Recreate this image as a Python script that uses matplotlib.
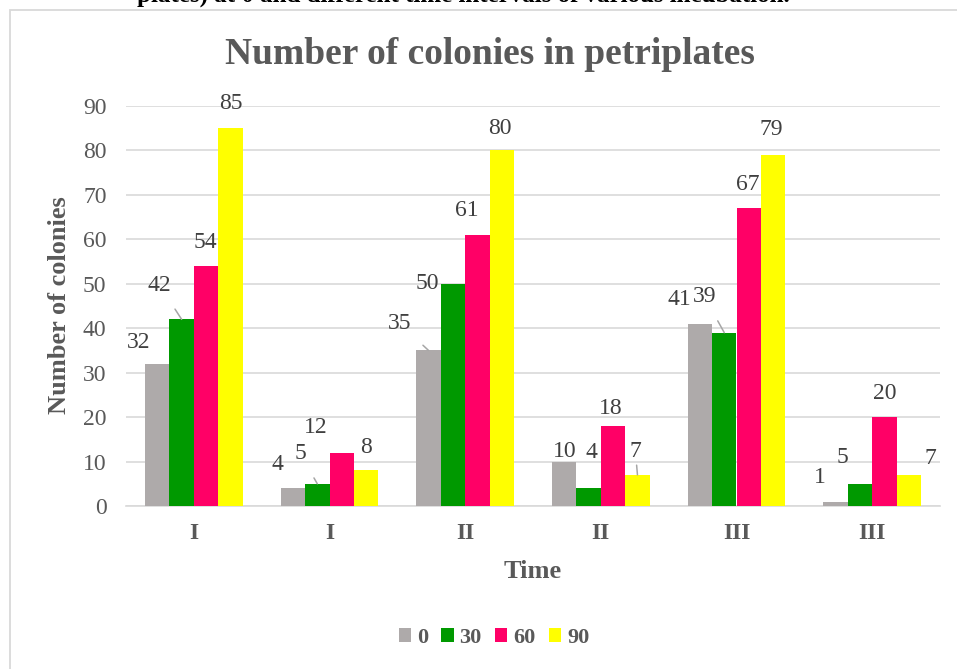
import numpy as np
import matplotlib
matplotlib.use("Agg")
import matplotlib.pyplot as plt
from matplotlib.patches import Rectangle

# colony counts per plate group, one list per time point
groups = ["I", "I", "II", "II", "III", "III"]
series_names = ["0", "30", "60", "90"]
counts_0 = [32, 4, 35, 10, 41, 1]
counts_30 = [42, 5, 50, 4, 39, 5]
counts_60 = [54, 12, 61, 18, 67, 20]
counts_90 = [85, 8, 80, 7, 79, 7]
colors = ["#AEAAAA", "#009900", "#FF0066", "#FFFF00"]

# label offsets in pixels (dx, dy) from the top of each bar; True = leader line
label_pos = {
    (0, 0): (-19, 21, False), (0, 1): (-22, 34, True), (0, 2): (-1, 24, False), (0, 3): (0, 25, False),
    (1, 0): (-15, 24, False), (1, 1): (-17, 30, True), (1, 2): (-26, 25, False), (1, 3): (0, 23, False),
    (2, 0): (-29, 27, True), (2, 1): (-26, 0, False), (2, 2): (-11, 24, False), (2, 3): (-2, 22, False),
    (3, 0): (1, 10, False), (3, 1): (3, 36, False), (3, 2): (-2, 18, False), (3, 3): (-2, 23, True),
    (4, 0): (-20, 24, False), (4, 1): (-20, 36, True), (4, 2): (-1, 24, False), (4, 3): (-2, 25, False),
    (5, 0): (-16, 24, False), (5, 1): (-18, 26, False), (5, 2): (0, 24, False), (5, 3): (22, 16, False),
}

plt.rcParams["font.family"] = ["Liberation Serif", "DejaVu Serif"]
W, H = 957, 669
fig = plt.figure(figsize=(W / 100, H / 100), dpi=100)
ax = fig.add_axes([126 / W, 1 - 506 / H, 814 / W, 400 / H])

all_series = [counts_0, counts_30, counts_60, counts_90]
x = np.arange(len(groups))
bw = 0.18
bars = []
for s, vals in enumerate(all_series):
    b = ax.bar(x + (s - 1.5) * bw, vals, width=bw, color=colors[s], label=series_names[s], zorder=3)
    bars.append(b)
    for g, v in enumerate(vals):
        dx, dy, lead = label_pos[(g, s)]
        arrow = None
        if lead:
            arrow = dict(arrowstyle="-", color="#A6A6A6", lw=1.1, shrinkA=9, shrinkB=0)
        ax.annotate(str(v), xy=(x[g] + (s - 1.5) * bw, v), xytext=(dx, dy),
                    textcoords="offset pixels", ha="center", va="center",
                    fontsize=17, color="#404040", arrowprops=arrow, zorder=4)

ax.set_xlim(-0.5, len(groups) - 0.5)
ax.set_ylim(0, 90)
ax.set_yticks(np.arange(0, 91, 10))
ax.yaxis.grid(True, color="#D9D9D9", lw=1.2, zorder=0)
for sp in ["top", "right", "left"]:
    ax.spines[sp].set_visible(False)
ax.spines["bottom"].set_color("#D9D9D9")
ax.spines["bottom"].set_linewidth(1.2)
ax.set_xticks(x)
ax.set_xticklabels(groups, fontweight="bold")
ax.tick_params(axis="x", length=0, pad=12, labelsize=17, labelcolor="#595959")
ax.tick_params(axis="y", length=0, pad=14, labelsize=17, labelcolor="#595959")

fig.text(490 / W, 1 - 55 / H, "Number of colonies in petriplates", ha="center", va="center",
         fontsize=27, fontweight="bold", color="#595959")
fig.text(60 / W, 1 - 305 / H, "Number of colonies", rotation=90, ha="center", va="center",
         fontsize=19, fontweight="bold", color="#595959")
fig.text(533 / W, 1 - 572 / H, "Time", ha="center", va="center",
         fontsize=19, fontweight="bold", color="#595959")

fig.legend(handles=bars, labels=series_names, loc="center", bbox_to_anchor=(494 / W, 1 - 638 / H),
           ncol=4, frameon=False, handlelength=0.55, handleheight=0.55, columnspacing=0.6,
           handletextpad=0.27, prop={"weight": "bold", "size": 16}, labelcolor="#595959")

# chart frame and the caption line running above it
fig.add_artist(Rectangle((10 / W, -0.1), 1.5, 1 - 10 / H + 0.1, transform=fig.transFigure,
                         fill=False, edgecolor="#D9D9D9", lw=1.3))
fig.text(137 / W, 1 - 1.2 / H, "plates) at 0 and different time intervals of various incubation.",
         ha="left", va="baseline", fontsize=18, fontweight="bold", color="black")

fig.savefig("out.png", dpi=100, facecolor="white")
